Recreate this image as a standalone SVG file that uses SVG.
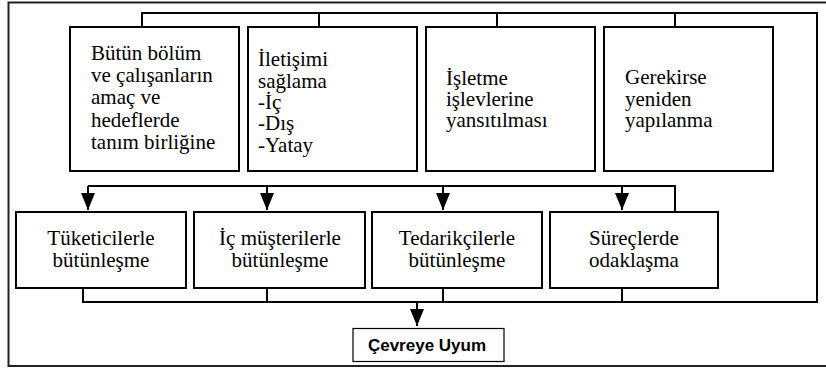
<svg xmlns="http://www.w3.org/2000/svg" width="826" height="370" viewBox="0 0 826 370">
<style>
.box{fill:#fff;stroke:#000;stroke-width:2}
.ln{fill:none;stroke:#000;stroke-width:2}
</style>
<defs>
<marker id="ah" markerWidth="17" markerHeight="14" refX="17" refY="7" orient="auto" markerUnits="userSpaceOnUse" viewBox="0 0 17 14">
<path d="M0,0 L17,7 L0,14 Z" fill="#000"/>
</marker>
</defs>
<rect width="826" height="370" fill="#fff"/>
<rect id="frame" x="8.5" y="2.5" width="830" height="363.5" fill="none" stroke="#222" stroke-width="2"/>
<g id="connectors">
<polyline class="ln" points="142,27 142,13 817,13 817,302 83,302 83,288"/>
<line class="ln" x1="319" y1="13" x2="319" y2="27"/>
<line class="ln" x1="497" y1="13" x2="497" y2="27"/>
<line class="ln" x1="675" y1="13" x2="675" y2="27"/>
<line class="ln" x1="267" y1="302" x2="267" y2="288"/>
<line class="ln" x1="443" y1="302" x2="443" y2="288"/>
<line class="ln" x1="622" y1="302" x2="622" y2="288"/>
<polyline class="ln" points="675,212 675,186 88,186"/>
<line class="ln" x1="88" y1="186" x2="88" y2="210" marker-end="url(#ah)"/>
<line class="ln" x1="267" y1="186" x2="267" y2="210" marker-end="url(#ah)"/>
<line class="ln" x1="443" y1="186" x2="443" y2="210" marker-end="url(#ah)"/>
<line class="ln" x1="622" y1="186" x2="622" y2="210" marker-end="url(#ah)"/>
<line class="ln" x1="417" y1="302" x2="417" y2="326" marker-end="url(#ah)"/>
</g>
<g id="n1">
<rect class="box" x="70" y="27" width="169" height="144"/>
<text font-family="'Liberation Serif','Times New Roman',serif" font-size="21" fill="#000"><tspan x="91" y="60">Bütün bölüm</tspan><tspan x="91" y="82">ve çalışanların</tspan><tspan x="91" y="104">amaç ve</tspan><tspan x="91" y="127">hedeflerde</tspan><tspan x="91" y="149">tanım birliğine</tspan></text>
</g>
<g id="n2">
<rect class="box" x="248" y="27" width="169" height="144"/>
<text font-family="'Liberation Serif','Times New Roman',serif" font-size="21" fill="#000"><tspan x="258" y="66">İletişimi</tspan><tspan x="258" y="88">sağlama</tspan><tspan x="258" y="109">-İç</tspan><tspan x="258" y="130">-Dış</tspan><tspan x="258" y="152">-Yatay</tspan></text>
</g>
<g id="n3">
<rect class="box" x="426" y="27" width="169" height="144"/>
<text font-family="'Liberation Serif','Times New Roman',serif" font-size="21" fill="#000"><tspan x="446" y="85">İşletme</tspan><tspan x="446" y="106">işlevlerine</tspan><tspan x="446" y="127">yansıtılması</tspan></text>
</g>
<g id="n4">
<rect class="box" x="604" y="27" width="169" height="144"/>
<text font-family="'Liberation Serif','Times New Roman',serif" font-size="21" fill="#000"><tspan x="625" y="84">Gerekirse</tspan><tspan x="625" y="106">yeniden</tspan><tspan x="625" y="127">yapılanma</tspan></text>
</g>
<g id="n5">
<rect class="box" x="16" y="212" width="170" height="76"/>
<text font-family="'Liberation Serif','Times New Roman',serif" font-size="21" fill="#000" text-anchor="middle"><tspan x="101" y="245">Tüketicilerle</tspan><tspan x="101" y="267">bütünleşme</tspan></text>
</g>
<g id="n6">
<rect class="box" x="194" y="212" width="171" height="76"/>
<text font-family="'Liberation Serif','Times New Roman',serif" font-size="21" fill="#000" text-anchor="middle"><tspan x="280" y="245">İç müşterilerle</tspan><tspan x="280" y="267">bütünleşme</tspan></text>
</g>
<g id="n7">
<rect class="box" x="372" y="212" width="170" height="76"/>
<text font-family="'Liberation Serif','Times New Roman',serif" font-size="21" fill="#000" text-anchor="middle"><tspan x="457" y="245">Tedarikçilerle</tspan><tspan x="457" y="267">bütünleşme</tspan></text>
</g>
<g id="n8">
<rect class="box" x="550" y="212" width="168" height="76"/>
<text font-family="'Liberation Serif','Times New Roman',serif" font-size="21" fill="#000" text-anchor="middle"><tspan x="634" y="245">Süreçlerde</tspan><tspan x="634" y="267">odaklaşma</tspan></text>
</g>
<g id="n9">
<rect x="353" y="328.5" width="151" height="33" fill="#fff" stroke="#000" stroke-width="1.2"/>
<text x="427" y="351" text-anchor="middle" font-family="'Liberation Sans',Arial,sans-serif" font-weight="bold" font-size="17" fill="#000">Çevreye Uyum</text>
</g>
</svg>
